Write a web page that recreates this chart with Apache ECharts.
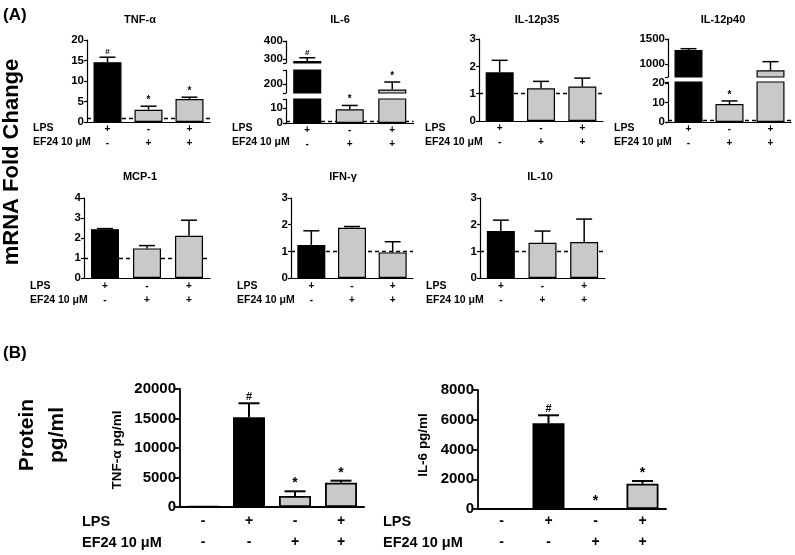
<!DOCTYPE html>
<html><head><meta charset="utf-8">
<script src="https://cdn.jsdelivr.net/npm/echarts@6/dist/echarts.min.js"></script>
<style>html,body{margin:0;padding:0;background:#fff}#c{width:795px;height:555px}</style>
</head><body><div id="c"></div>
<script>
// ================= DATA =================
const mrnaGroups = ['LPS', 'EF24', 'LPS + EF24'];
const mrnaLps = ['+', '-', '+'];
const mrnaEf24 = ['-', '+', '+'];

const tnfMrna = [14.6, 3.0, 5.6];
const tnfMrnaErr = [1.2, 0.85, 0.45];
const tnfMrnaSig = ['#', '*', '*'];
const tnfMrnaTicks = [0, 5, 10, 15, 20];

const il6Mrna = [289, 9.2, 169];
const il6MrnaErr = [18, 2.5, 42];
const il6MrnaSig = ['#', '*', '*'];
const il6MrnaRanges = [[0, 16], [150, 278], [278, 400]];
const il6MrnaTicks = [[0, 10], [200], [300, 400]];

const il12p35Mrna = [1.78, 1.2, 1.26];
const il12p35MrnaErr = [0.44, 0.25, 0.31];
const il12p35MrnaSig = ['', '', ''];
const il12p35MrnaTicks = [0, 1, 2, 3];

const il12p40Mrna = [1280, 9.2, 874];
const il12p40MrnaErr = [26, 1.6, 173];
const il12p40MrnaSig = ['', '*', ''];
const il12p40MrnaRanges = [[0, 20.5], [740, 1500]];
const il12p40MrnaTicks = [[0, 10, 20], [1000, 1500]];

const mcp1Mrna = [2.44, 1.48, 2.11];
const mcp1MrnaErr = [0.03, 0.14, 0.78];
const mcp1MrnaTicks = [0, 1, 2, 3, 4];

const ifngMrna = [1.24, 1.88, 0.96];
const ifngMrnaErr = [0.53, 0.05, 0.40];
const ifngMrnaTicks = [0, 1, 2, 3];

const il10Mrna = [1.76, 1.32, 1.35];
const il10MrnaErr = [0.41, 0.44, 0.86];
const il10MrnaTicks = [0, 1, 2, 3];

const noSig = ['', '', ''];

const proteinGroups = ['Control', 'LPS', 'EF24', 'LPS + EF24'];
const proteinLps = ['-', '+', '-', '+'];
const proteinEf24 = ['-', '-', '+', '+'];

const tnfProtein = [120, 15200, 1860, 4120];
const tnfProteinErr = [0, 2380, 800, 340];
const tnfProteinSig = ['', '#', '*', '*'];
const tnfProteinTicks = [0, 5000, 10000, 15000, 20000];

const il6Protein = [0, 5760, 5, 1700];
const il6ProteinErr = [0, 540, 0, 180];
const il6ProteinSig = ['', '#', '*', '*'];
const il6ProteinTicks = [0, 2000, 4000, 6000, 8000];

// ================= STYLE / LAYOUT =================
const FONT = '"Liberation Sans", Arial, Helvetica, sans-serif';
const GRAY = '#c9c9c9';
const mrnaColors = ['#000000', GRAY, GRAY];
const proteinColors = ['#ffffff', '#000000', GRAY, GRAY];

const grids = [], xAxes = [], yAxes = [], series = [], graphics = [];

function txt(text, x, y, size, opts) {
  opts = opts || {};
  graphics.push({
    type: 'text', x: x, y: y, rotation: opts.rot || 0, silent: true,
    style: {
      text: text, fill: '#000', font: 'bold ' + size + 'px ' + FONT,
      align: opts.align || 'center', verticalAlign: opts.va || 'middle',
      lineHeight: opts.lh || undefined
    }
  });
}

function addPanel(p) {
  p.segs.forEach(function (s, si) {
    const gi = grids.length;
    const isBottom = si === 0;
    grids.push({ left: p.left, top: s.top, width: p.width, height: s.height });
    xAxes.push({
      gridIndex: gi, type: 'category', data: p.groups, show: isBottom,
      axisLine: { show: true, lineStyle: { color: '#000', width: p.lw } },
      axisTick: { show: false },
      axisLabel: {
        interval: 0, color: '#000', fontFamily: FONT, fontWeight: 'bold',
        fontSize: p.signFs, lineHeight: p.signLh, margin: p.signMargin,
        formatter: function (v, i) { return p.lps[i] + '\n' + p.ef24[i]; }
      }
    });
    const tickVals = s.ticks.slice();
    if (s.broken) { tickVals.push(s.range[0]); tickVals.push(s.range[1]); }
    yAxes.push({
      gridIndex: gi, type: 'value', min: s.range[0], max: s.range[1],
      axisLine: { show: true, lineStyle: { color: '#000', width: p.lw } },
      axisTick: { show: true, length: p.tickLen, lineStyle: { color: '#000', width: p.lw }, customValues: tickVals },
      axisLabel: { customValues: s.ticks, color: '#000', fontFamily: FONT, fontWeight: 'bold', fontSize: p.tickFs, margin: p.tickMargin,
        formatter: function (v) { return String(v); } },
      splitLine: { show: false }
    });
    const bar = {
      type: 'bar', xAxisIndex: gi, yAxisIndex: gi, barWidth: p.barWidth, z: 2,
      animation: false, silent: true,
      data: p.values.map(function (v, i) { return { value: v, itemStyle: { color: p.colors[i] } }; }),
      itemStyle: { borderColor: '#000', borderWidth: p.lw }
    };
    if (isBottom && p.dashed) {
      bar.markLine = {
        silent: true, symbol: 'none', z: 1, animation: false,
        label: { show: false },
        lineStyle: { color: '#000', width: 1.3, type: [4, 3] },
        data: [{ yAxis: 1 }]
      };
    }
    series.push(bar);
    // error bars (clipped to the segment)
    series.push({
      type: 'custom', xAxisIndex: gi, yAxisIndex: gi, clip: true, z: 3, animation: false, silent: true,
      data: p.values.map(function (v, i) { return [i, v, v + p.errs[i]]; }),
      renderItem: function (params, api) {
        const v = api.value(1), t = api.value(2);
        if (!(t > v)) return null;
        const i = api.value(0);
        const a = api.coord([i, v]), b = api.coord([i, t]);
        return {
          type: 'group', children: [
            { type: 'line', shape: { x1: b[0], y1: a[1], x2: b[0], y2: b[1] }, style: { stroke: '#000', lineWidth: p.errLw } },
            { type: 'line', shape: { x1: b[0] - p.cap / 2, y1: b[1], x2: b[0] + p.cap / 2, y2: b[1] }, style: { stroke: '#000', lineWidth: p.errLw } }
          ]
        };
      }
    });
    // significance marks (only in the segment that holds the top of the error bar)
    series.push({
      type: 'custom', xAxisIndex: gi, yAxisIndex: gi, clip: false, z: 4, animation: false, silent: true,
      data: p.values.map(function (v, i) { return [i, v + p.errs[i]]; }),
      renderItem: function (params, api) {
        const i = api.value(0), t = api.value(1);
        const sig = p.sigs[i];
        if (!sig) return null;
        if (t < s.range[0] || t > s.range[1]) return null;
        const b = api.coord([i, t]);
        return {
          type: 'text', x: b[0], y: b[1] - p.sigGap,
          style: { text: sig, fill: '#000', font: 'bold ' + (sig === '*' ? p.starFs : p.hashFs) + 'px ' + FONT, align: 'center', verticalAlign: 'bottom' }
        };
      }
    });
  });
}

const mrnaBase = {
  groups: mrnaGroups, lps: mrnaLps, ef24: mrnaEf24, colors: mrnaColors,
  lw: 1.2, tickLen: 3, tickFs: 11.5, tickMargin: 3, barWidth: 28, errLw: 1.5, cap: 16,
  signFs: 10, signLh: 14, dashed: true, sigGap: 1, starFs: 10, hashFs: 8
};
function seg(range, ticks, top, height, broken) { return { range: range, ticks: ticks, top: top, height: height, broken: !!broken }; }

const mrnaPanels = [
  { title: 'TNF-α', titleX: 140, row: 0, left: 87, width: 123, values: tnfMrna, errs: tnfMrnaErr, sigs: tnfMrnaSig,
    segs: [seg([0, 20], tnfMrnaTicks, 40, 82)] },
  { title: 'IL-6', titleX: 340, row: 0, left: 286, width: 127.5, values: il6Mrna, errs: il6MrnaErr, sigs: il6MrnaSig,
    segs: [seg(il6MrnaRanges[0], il6MrnaTicks[0], 99, 24, true), seg(il6MrnaRanges[1], il6MrnaTicks[1], 70, 23, true), seg(il6MrnaRanges[2], il6MrnaTicks[2], 41, 22, true)] },
  { title: 'IL-12p35', titleX: 537, row: 0, left: 479, width: 124, values: il12p35Mrna, errs: il12p35MrnaErr, sigs: il12p35MrnaSig,
    segs: [seg([0, 3], il12p35MrnaTicks, 39, 82)] },
  { title: 'IL-12p40', titleX: 723, row: 0, left: 668, width: 123, values: il12p40Mrna, errs: il12p40MrnaErr, sigs: il12p40MrnaSig,
    segs: [seg(il12p40MrnaRanges[0], il12p40MrnaTicks[0], 82, 40, true), seg(il12p40MrnaRanges[1], il12p40MrnaTicks[1], 39, 38, true)] },
  { title: 'MCP-1', titleX: 140, row: 1, left: 84, width: 126, values: mcp1Mrna, errs: mcp1MrnaErr, sigs: noSig,
    segs: [seg([0, 4], mcp1MrnaTicks, 198, 80)] },
  { title: 'IFN-γ', titleX: 343, row: 1, left: 291, width: 122, values: ifngMrna, errs: ifngMrnaErr, sigs: noSig,
    segs: [seg([0, 3], ifngMrnaTicks, 198, 80)] },
  { title: 'IL-10', titleX: 540, row: 1, left: 480, width: 125, values: il10Mrna, errs: il10MrnaErr, sigs: noSig,
    segs: [seg([0, 3], il10MrnaTicks, 198, 80)] }
];
const rowInfo = [
  { titleY: 20, lab1: 128, lab2: 142, signMargin: 0 },
  { titleY: 177, lab1: 286, lab2: 300, signMargin: 1 }
];
mrnaPanels.forEach(function (pp) {
  const p = Object.assign({}, mrnaBase, pp);
  const r = rowInfo[p.row];
  p.signMargin = r.signMargin;
  addPanel(p);
  txt(p.title, p.titleX, r.titleY, 11);
  txt('LPS', p.left - 54, r.lab1, 10.5, { align: 'left' });
  txt('EF24 10 μM', p.left - 54, r.lab2, 10.5, { align: 'left' });
});

const protBase = {
  groups: proteinGroups, lps: proteinLps, ef24: proteinEf24, colors: proteinColors,
  lw: 1.8, tickLen: 5, tickFs: 15, tickMargin: 4, barWidth: 32, errLw: 2, cap: 21,
  signFs: 14, signLh: 21, dashed: false, sigGap: 1, starFs: 14, hashFs: 11
};
addPanel(Object.assign({}, protBase, { left: 180, width: 184, values: tnfProtein, errs: tnfProteinErr, sigs: tnfProteinSig, signMargin: 4,
  segs: [seg([0, 20000], tnfProteinTicks, 389, 118)] }));
addPanel(Object.assign({}, protBase, { left: 478, width: 188, values: il6Protein, errs: il6ProteinErr, sigs: il6ProteinSig, signMargin: 2,
  segs: [seg([0, 8000], il6ProteinTicks, 390, 119)] }));

txt('LPS', 82, 522, 14.5, { align: 'left' });
txt('EF24 10 μM', 82, 543, 14.5, { align: 'left' });
txt('LPS', 383, 522, 14.5, { align: 'left' });
txt('EF24 10 μM', 383, 543, 14.5, { align: 'left' });
txt('TNF-α pg/ml', 117, 450, 13.5, { rot: Math.PI / 2 });
txt('IL-6 pg/ml', 423, 445, 13.5, { rot: Math.PI / 2 });
txt('Protein\npg/ml', 42, 435, 21, { rot: Math.PI / 2, lh: 30 });
txt('mRNA Fold Change', 12, 162, 22, { rot: Math.PI / 2 });
txt('(A)', 3, 15, 17, { align: 'left' });
txt('(B)', 3, 353, 17, { align: 'left' });

const chart = echarts.init(document.getElementById('c'), null, { renderer: 'canvas' });
chart.setOption({
  backgroundColor: '#fff',
  animation: false,
  textStyle: { fontFamily: FONT },
  grid: grids, xAxis: xAxes, yAxis: yAxes, series: series, graphic: graphics
});
</script></body></html>
